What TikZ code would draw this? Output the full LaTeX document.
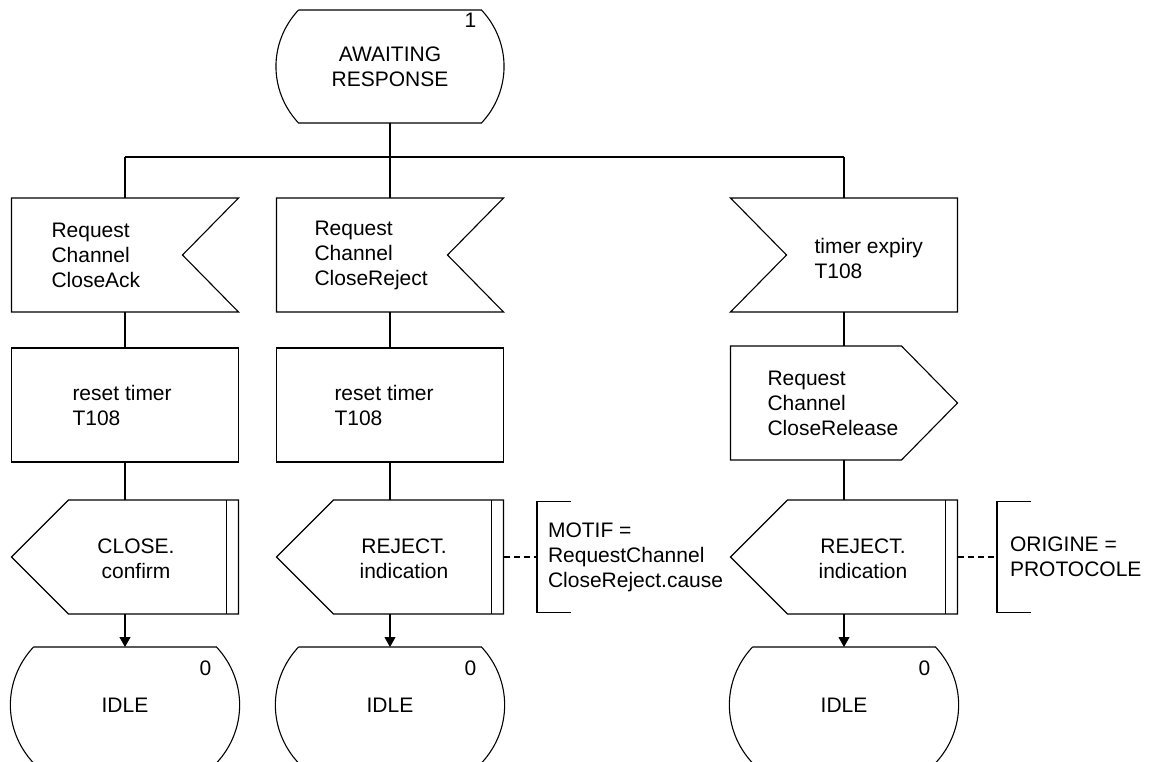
\documentclass[tikz,border=0pt]{standalone}
\usepackage{fontspec}
\setmainfont{Liberation Sans}
\usetikzlibrary{arrows.meta}

\tikzset{
  every node/.style={font=\fontsize{21}{25}\selectfont, inner sep=0pt, outer sep=0pt},
  sdlbox/.style={minimum width=227, minimum height=114},
  sdlstate/.style={minimum width=227, minimum height=113, align=center},
  lbl/.style={align=left, anchor=west},
  ctr/.style={align=center},
  cmtline/.style={dash pattern=on 6pt off 4pt}
}

\begin{document}
\begin{tikzpicture}[x=1pt,y=-1pt,line width=1.1pt,>={Triangle[length=10pt,width=11pt]}]
\useasboundingbox (0,0) rectangle (1151,762);
\clip (0,0) rectangle (1151,762);

% state we wait in
\node[sdlstate] (awaiting) at (390,66.5) {AWAITING\\RESPONSE};
\draw ([xshift=22]awaiting.north west) -- ([xshift=-22]awaiting.north east)
  to[bend left=43] ([xshift=-22]awaiting.south east) -- ([xshift=22]awaiting.south west)
  to[bend left=43] ([xshift=22]awaiting.north west);
\node (awaitingnum) at ([xshift=-33,yshift=-10]awaiting.north east) {1};

% inputs
\node[sdlbox] (inack) at (125,255) {};
\draw (inack.north west) -- (inack.north east) -- ([xshift=-56]inack.east)
  -- (inack.south east) -- (inack.south west) -- cycle;
\node[lbl] (inacktxt) at ([xshift=40]inack.west) {Request\\Channel\\CloseAck};

\node[sdlbox] (inrej) at (390,255) {};
\draw (inrej.north west) -- (inrej.north east) -- ([xshift=-56]inrej.east)
  -- (inrej.south east) -- (inrej.south west) -- cycle;
\node[lbl] (inrejtxt) at ([xshift=38]inrej.west) {Request\\Channel\\CloseReject};

\node[sdlbox] (inexp) at (844,255) {};
\draw (inexp.north west) -- (inexp.north east) -- (inexp.south east)
  -- (inexp.south west) -- ([xshift=56]inexp.west) -- cycle;
\node[lbl] (inexptxt) at ([xshift=84,yshift=-3]inexp.west) {timer expiry\\T108};

% fork under the state
\coordinate (fork) at (390,157);
\coordinate (forkack) at (fork -| inack);
\coordinate (forkexp) at (fork -| inexp);
\draw (awaiting) -- (fork);
\draw (forkack) -- (forkexp);
\draw (forkack) -- (inack);
\draw (fork) -- (inrej);
\draw (forkexp) -- (inexp);

% tasks
\node[sdlbox] (rstack) at (125,405) {};
\draw (rstack.north west) rectangle (rstack.south east);
\node[lbl] (rstacktxt) at ([xshift=61]rstack.west) {reset timer\\T108};

\node[sdlbox] (rstrej) at (390,405) {};
\draw (rstrej.north west) rectangle (rstrej.south east);
\node[lbl] (rstrejtxt) at ([xshift=58]rstrej.west) {reset timer\\T108};

\node[sdlbox] (outrel) at (844,403) {};
\draw (outrel.north west) -- ([xshift=-56]outrel.north east) -- (outrel.east)
  -- ([xshift=-56]outrel.south east) -- (outrel.south west) -- cycle;
\node[lbl] (outreltxt) at ([xshift=37]outrel.west) {Request\\Channel\\CloseRelease};

\draw (inack) -- (rstack);
\draw (inrej) -- (rstrej);
\draw (inexp) -- (outrel);

% outputs to the user
\node[sdlbox] (outclose) at (125,557) {};
\draw ([xshift=57]outclose.north west) -- (outclose.north east) -- (outclose.south east)
  -- ([xshift=57]outclose.south west) -- (outclose.west) -- cycle;
\draw ([xshift=-12]outclose.north east) -- ([xshift=-12]outclose.south east);
\node[ctr] (outclosetxt) at ([xshift=11,yshift=-2]outclose.center) {CLOSE.\\confirm};

\node[sdlbox] (outrej) at (390,557) {};
\draw ([xshift=57]outrej.north west) -- (outrej.north east) -- (outrej.south east)
  -- ([xshift=57]outrej.south west) -- (outrej.west) -- cycle;
\draw ([xshift=-12]outrej.north east) -- ([xshift=-12]outrej.south east);
\node[ctr] (outrejtxt) at ([xshift=14,yshift=-2]outrej.center) {REJECT.\\indication};

\node[sdlbox] (outexp) at (844,557) {};
\draw ([xshift=57]outexp.north west) -- (outexp.north east) -- (outexp.south east)
  -- ([xshift=57]outexp.south west) -- (outexp.west) -- cycle;
\draw ([xshift=-12]outexp.north east) -- ([xshift=-12]outexp.south east);
\node[ctr] (outexptxt) at ([xshift=19,yshift=-2]outexp.center) {REJECT.\\indication};

\draw (rstack) -- (outclose);
\draw (rstrej) -- (outrej);
\draw (outrel) -- (outexp);

% comments
\node[lbl, minimum height=111, inner xsep=11] (motif) at (537,557) {MOTIF =\\RequestChannel\\CloseReject.cause};
\draw ([xshift=34]motif.north west) -- (motif.north west) -- (motif.south west) -- ([xshift=34]motif.south west);
\draw[cmtline] (outrej.east) -- (motif.west);

\node[lbl, minimum height=111, inner xsep=13] (origine) at (997,557) {ORIGINE =\\PROTOCOLE};
\draw ([xshift=34]origine.north west) -- (origine.north west) -- (origine.south west) -- ([xshift=34]origine.south west);
\draw[cmtline] (outexp.east) -- (origine.west);

% next states
\node[sdlstate, minimum height=116] (idleack) at (125,705) {IDLE};
\node[sdlstate, minimum height=116] (idlerej) at (390,705) {IDLE};
\node[sdlstate, minimum height=116] (idleexp) at (844,705) {IDLE};
\foreach \s in {idleack,idlerej,idleexp} {
  \draw ([xshift=22]\s.north west) -- ([xshift=-22]\s.north east)
    to[bend left=43] ([xshift=-22]\s.south east) -- ([xshift=22]\s.south west)
    to[bend left=43] ([xshift=22]\s.north west);
  \node (\s num) at ([xshift=-33,yshift=-21]\s.north east) {0};
}

\draw[->] (outclose) -- (idleack);
\draw[->] (outrej) -- (idlerej);
\draw[->] (outexp) -- (idleexp);
\end{tikzpicture}
\end{document}
